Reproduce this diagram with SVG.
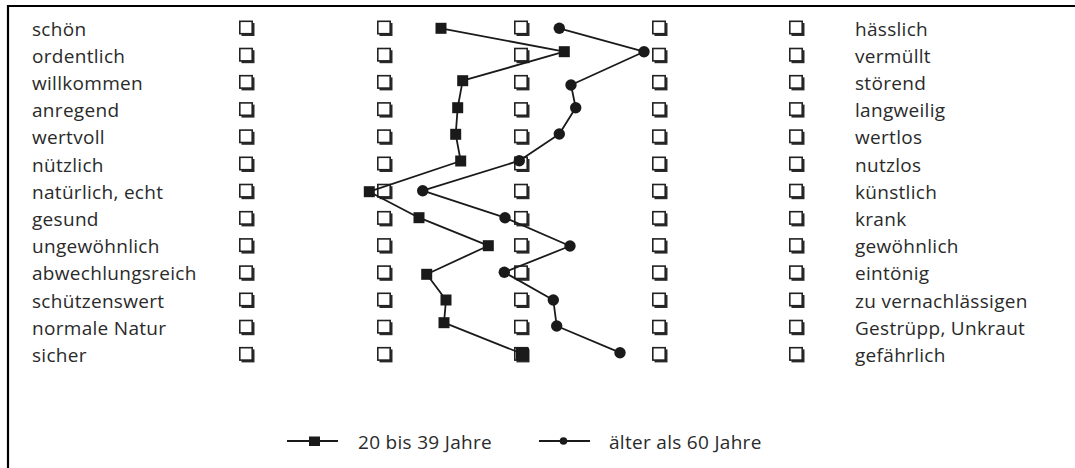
<svg xmlns="http://www.w3.org/2000/svg" xmlns:xlink="http://www.w3.org/1999/xlink" width="1075" height="468" viewBox="0 0 1075 468">
<style>
text{font-family:"Open Sans","Noto Sans","Liberation Sans",sans-serif;font-size:19px;letter-spacing:0.3px;fill:#2a2a2a}
.ln{fill:none;stroke:#1a1a1a;stroke-width:1.8;stroke-linejoin:round}
.mk{fill:#1a1a1a}
.frame{fill:none;stroke:#000;stroke-width:2.2}
</style>
<defs>
<g id="cb"><rect x="2.5" y="2.5" width="13" height="13" fill="#2a2a2a"/><rect x="0.8" y="0.8" width="12.4" height="12.4" fill="#fff" stroke="#222" stroke-width="1.6"/></g>
<rect id="sq" x="-5.5" y="-5.5" width="11" height="11" class="mk"/>
<circle id="dot" r="5.7" class="mk"/>
</defs>
<rect width="1075" height="468" fill="#fff"/>
<path class="frame" d="M8,469 V6 H1075"/>

<g id="rows">
<g id="row0"><text x="32" y="35.5">schön</text><use href="#cb" x="239" y="20.5"/><use href="#cb" x="377" y="20.5"/><use href="#cb" x="514" y="20.5"/><use href="#cb" x="652" y="20.5"/><use href="#cb" x="789" y="20.5"/><text x="855" y="35.5">hässlich</text></g>
<g id="row1"><text x="32" y="62.7">ordentlich</text><use href="#cb" x="239" y="47.7"/><use href="#cb" x="377" y="47.7"/><use href="#cb" x="514" y="47.7"/><use href="#cb" x="652" y="47.7"/><use href="#cb" x="789" y="47.7"/><text x="855" y="62.7">vermüllt</text></g>
<g id="row2"><text x="32" y="89.9">willkommen</text><use href="#cb" x="239" y="74.9"/><use href="#cb" x="377" y="74.9"/><use href="#cb" x="514" y="74.9"/><use href="#cb" x="652" y="74.9"/><use href="#cb" x="789" y="74.9"/><text x="855" y="89.9">störend</text></g>
<g id="row3"><text x="32" y="117.1">anregend</text><use href="#cb" x="239" y="102.1"/><use href="#cb" x="377" y="102.1"/><use href="#cb" x="514" y="102.1"/><use href="#cb" x="652" y="102.1"/><use href="#cb" x="789" y="102.1"/><text x="855" y="117.1">langweilig</text></g>
<g id="row4"><text x="32" y="144.3">wertvoll</text><use href="#cb" x="239" y="129.3"/><use href="#cb" x="377" y="129.3"/><use href="#cb" x="514" y="129.3"/><use href="#cb" x="652" y="129.3"/><use href="#cb" x="789" y="129.3"/><text x="855" y="144.3">wertlos</text></g>
<g id="row5"><text x="32" y="171.5">nützlich</text><use href="#cb" x="239" y="156.5"/><use href="#cb" x="377" y="156.5"/><use href="#cb" x="514" y="156.5"/><use href="#cb" x="652" y="156.5"/><use href="#cb" x="789" y="156.5"/><text x="855" y="171.5">nutzlos</text></g>
<g id="row6"><text x="32" y="198.7">natürlich, echt</text><use href="#cb" x="239" y="183.7"/><use href="#cb" x="377" y="183.7"/><use href="#cb" x="514" y="183.7"/><use href="#cb" x="652" y="183.7"/><use href="#cb" x="789" y="183.7"/><text x="855" y="198.7">künstlich</text></g>
<g id="row7"><text x="32" y="225.9">gesund</text><use href="#cb" x="239" y="210.9"/><use href="#cb" x="377" y="210.9"/><use href="#cb" x="514" y="210.9"/><use href="#cb" x="652" y="210.9"/><use href="#cb" x="789" y="210.9"/><text x="855" y="225.9">krank</text></g>
<g id="row8"><text x="32" y="253.1">ungewöhnlich</text><use href="#cb" x="239" y="238.1"/><use href="#cb" x="377" y="238.1"/><use href="#cb" x="514" y="238.1"/><use href="#cb" x="652" y="238.1"/><use href="#cb" x="789" y="238.1"/><text x="855" y="253.1">gewöhnlich</text></g>
<g id="row9"><text x="32" y="280.3">abwechlungsreich</text><use href="#cb" x="239" y="265.3"/><use href="#cb" x="377" y="265.3"/><use href="#cb" x="514" y="265.3"/><use href="#cb" x="652" y="265.3"/><use href="#cb" x="789" y="265.3"/><text x="855" y="280.3">eintönig</text></g>
<g id="row10"><text x="32" y="307.5">schützenswert</text><use href="#cb" x="239" y="292.5"/><use href="#cb" x="377" y="292.5"/><use href="#cb" x="514" y="292.5"/><use href="#cb" x="652" y="292.5"/><use href="#cb" x="789" y="292.5"/><text x="855" y="307.5">zu vernachlässigen</text></g>
<g id="row11"><text x="32" y="334.7">normale Natur</text><use href="#cb" x="239" y="319.7"/><use href="#cb" x="377" y="319.7"/><use href="#cb" x="514" y="319.7"/><use href="#cb" x="652" y="319.7"/><use href="#cb" x="789" y="319.7"/><text x="855" y="334.7">Gestrüpp, Unkraut</text></g>
<g id="row12"><text x="32" y="361.9">sicher</text><use href="#cb" x="239" y="346.9"/><use href="#cb" x="377" y="346.9"/><use href="#cb" x="514" y="346.9"/><use href="#cb" x="652" y="346.9"/><use href="#cb" x="789" y="346.9"/><text x="855" y="361.9">gefährlich</text></g>
</g>

<g id="connectors">
<polyline id="series-20-39" class="ln" points="441,28.3 564.3,51.7 462.7,80.7 457.7,107.7 455.7,134.3 460.7,161 369.3,191.7 419,217.7 488.3,245.7 426.7,274.3 446,300 444,322.7 522.7,354"/>
<polyline id="series-60" class="ln" points="559.3,28.3 644,51.7 571,85 575.7,107.7 559.3,134 519.3,160.7 422.7,190.7 505,217.7 570,246 504.3,272.3 553.3,300 556.7,326 620,352.7"/>
</g>

<g id="markers-20-39">
<use href="#sq" x="441" y="28.3"/><use href="#sq" x="564.3" y="51.7"/><use href="#sq" x="462.7" y="80.7"/><use href="#sq" x="457.7" y="107.7"/><use href="#sq" x="455.7" y="134.3"/><use href="#sq" x="460.7" y="161"/><use href="#sq" x="369.3" y="191.7"/><use href="#sq" x="419" y="217.7"/><use href="#sq" x="488.3" y="245.7"/><use href="#sq" x="426.7" y="274.3"/><use href="#sq" x="446" y="300"/><use href="#sq" x="444" y="322.7"/>
<rect x="516" y="347.5" width="13" height="13" class="mk"/>
</g>
<g id="markers-60">
<use href="#dot" x="559.3" y="28.3"/><use href="#dot" x="644" y="51.7"/><use href="#dot" x="571" y="85"/><use href="#dot" x="575.7" y="107.7"/><use href="#dot" x="559.3" y="134"/><use href="#dot" x="519.3" y="160.7"/><use href="#dot" x="422.7" y="190.7"/><use href="#dot" x="505" y="217.7"/><use href="#dot" x="570" y="246"/><use href="#dot" x="504.3" y="272.3"/><use href="#dot" x="553.3" y="300"/><use href="#dot" x="556.7" y="326"/><use href="#dot" x="620" y="352.7"/>
</g>

<g id="legend">
<g id="legend-20-39"><line x1="287" y1="441" x2="338" y2="441" class="ln" stroke-width="2"/><rect x="309" y="436.5" width="11" height="9.5" class="mk"/><text x="358" y="449">20 bis 39 Jahre</text></g>
<g id="legend-60"><line x1="539" y1="441" x2="590" y2="441" class="ln" stroke-width="2"/><circle cx="563.5" cy="441" r="3.8" class="mk"/><text x="609" y="449">älter als 60 Jahre</text></g>
</g>
</svg>
